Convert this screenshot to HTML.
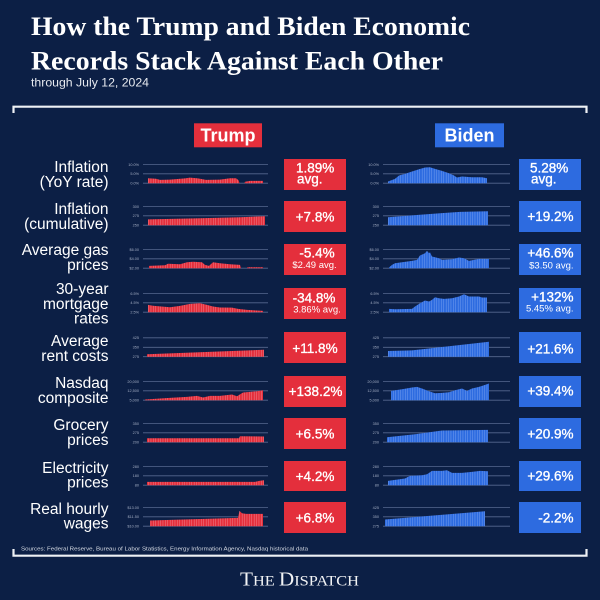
<!DOCTYPE html>
<html>
<head>
<meta charset="utf-8">
<style>
html,body{margin:0;padding:0;background:#0c1f45;}
svg{display:block;}
.lbl{font-family:"Liberation Sans",sans-serif;font-size:15.5px;fill:#ffffff;text-anchor:end;}
.val{font-family:"Liberation Sans",sans-serif;font-size:13.5px;fill:#ffffff;stroke:#ffffff;stroke-width:0.35px;}
.sub{font-family:"Liberation Sans",sans-serif;font-size:9.5px;fill:#ffffff;}
.tk{font-family:"Liberation Sans",sans-serif;font-size:3.8px;fill:#a3adc3;text-anchor:end;}
.grid line{stroke:#56688f;stroke-width:0.8;}
</style>
</head>
<body>
<svg width="600" height="600" viewBox="0 0 600 600" xmlns="http://www.w3.org/2000/svg">
<defs>
<pattern id="pr" x="0" y="0" width="2.4" height="10" patternUnits="userSpaceOnUse">
<rect x="0" y="0" width="2.4" height="10" fill="#e42f3c"/>
<rect x="1.95" y="0" width="0.45" height="10" fill="#f08a94"/>
</pattern>
<pattern id="pb" x="0" y="0" width="2.4" height="10" patternUnits="userSpaceOnUse">
<rect x="0" y="0" width="2.4" height="10" fill="#2d6be0"/>
<rect x="1.95" y="0" width="0.45" height="10" fill="#7aa3f0"/>
</pattern>
</defs>
<rect width="600" height="600" fill="#0c1f45"/>

<!-- Title -->
<text x="31" y="35" font-family="Liberation Serif, serif" font-weight="bold" font-size="26.5" fill="#ffffff" textLength="439" lengthAdjust="spacingAndGlyphs">How the Trump and Biden Economic</text>
<text x="31" y="69.3" font-family="Liberation Serif, serif" font-weight="bold" font-size="26.5" fill="#ffffff" textLength="412" lengthAdjust="spacingAndGlyphs">Records Stack Against Each Other</text>
<text x="31" y="86.5" font-family="Liberation Sans, sans-serif" font-size="12" fill="#e6e9ef" textLength="118" lengthAdjust="spacingAndGlyphs">through July 12, 2024</text>

<!-- Brackets -->
<path d="M13.5,113 V106.7 H586.5 V113" fill="none" stroke="#eef1f5" stroke-width="2.2"/>
<path d="M13.5,549 V555.7 H586.5 V549" fill="none" stroke="#eef1f5" stroke-width="2.2"/>

<!-- Column headers -->
<rect x="194" y="123.3" width="68" height="24" fill="#e42f3c"/>
<text x="228" y="141.6" font-family="Liberation Sans, sans-serif" font-weight="bold" font-size="18" fill="#ffffff" text-anchor="middle">Trump</text>
<rect x="435" y="123.3" width="69" height="24" fill="#2d6be0"/>
<text x="469.5" y="141.6" font-family="Liberation Sans, sans-serif" font-weight="bold" font-size="18" fill="#ffffff" text-anchor="middle">Biden</text>

<!-- Row labels -->
<text class="lbl" x="108.5" y="172">Inflation</text>
<text class="lbl" x="108.5" y="187">(YoY rate)</text>
<text class="lbl" x="108.5" y="214">Inflation</text>
<text class="lbl" x="108.5" y="229">(cumulative)</text>
<text class="lbl" x="108.5" y="255">Average gas</text>
<text class="lbl" x="108.5" y="270">prices</text>
<text class="lbl" x="108.5" y="294">30-year</text>
<text class="lbl" x="108.5" y="309">mortgage</text>
<text class="lbl" x="108.5" y="323.5">rates</text>
<text class="lbl" x="108.5" y="346">Average</text>
<text class="lbl" x="108.5" y="361">rent costs</text>
<text class="lbl" x="108.5" y="388">Nasdaq</text>
<text class="lbl" x="108.5" y="403">composite</text>
<text class="lbl" x="108.5" y="430">Grocery</text>
<text class="lbl" x="108.5" y="445">prices</text>
<text class="lbl" x="108.5" y="473">Electricity</text>
<text class="lbl" x="108.5" y="487.5">prices</text>
<text class="lbl" x="108.5" y="514">Real hourly</text>
<text class="lbl" x="108.5" y="528.5">wages</text>

<!-- Gridlines -->
<g class="grid">
<line x1="143" x2="268" y1="164.5" y2="164.5"/><line x1="143" x2="268" y1="173.8" y2="173.8"/><line x1="143" x2="268" y1="183.2" y2="183.2"/>
<line x1="383" x2="510" y1="164.5" y2="164.5"/><line x1="383" x2="510" y1="173.8" y2="173.8"/><line x1="383" x2="510" y1="183.2" y2="183.2"/>
<line x1="143" x2="268" y1="206.5" y2="206.5"/><line x1="143" x2="268" y1="215.8" y2="215.8"/><line x1="143" x2="268" y1="225.2" y2="225.2"/>
<line x1="383" x2="510" y1="206.5" y2="206.5"/><line x1="383" x2="510" y1="215.8" y2="215.8"/><line x1="383" x2="510" y1="225.2" y2="225.2"/>
<line x1="143" x2="268" y1="249.5" y2="249.5"/><line x1="143" x2="268" y1="258.8" y2="258.8"/><line x1="143" x2="268" y1="268.2" y2="268.2"/>
<line x1="383" x2="510" y1="249.5" y2="249.5"/><line x1="383" x2="510" y1="258.8" y2="258.8"/><line x1="383" x2="510" y1="268.2" y2="268.2"/>
<line x1="143" x2="268" y1="293.5" y2="293.5"/><line x1="143" x2="268" y1="302.8" y2="302.8"/><line x1="143" x2="268" y1="312.2" y2="312.2"/>
<line x1="383" x2="510" y1="293.5" y2="293.5"/><line x1="383" x2="510" y1="302.8" y2="302.8"/><line x1="383" x2="510" y1="312.2" y2="312.2"/>
<line x1="143" x2="268" y1="337.8" y2="337.8"/><line x1="143" x2="268" y1="347.3" y2="347.3"/><line x1="143" x2="268" y1="356.7" y2="356.7"/>
<line x1="383" x2="510" y1="337.8" y2="337.8"/><line x1="383" x2="510" y1="347.3" y2="347.3"/><line x1="383" x2="510" y1="356.7" y2="356.7"/>
<line x1="143" x2="268" y1="381.5" y2="381.5"/><line x1="143" x2="268" y1="390.8" y2="390.8"/><line x1="143" x2="268" y1="400.2" y2="400.2"/>
<line x1="383" x2="510" y1="381.5" y2="381.5"/><line x1="383" x2="510" y1="390.8" y2="390.8"/><line x1="383" x2="510" y1="400.2" y2="400.2"/>
<line x1="143" x2="268" y1="423.5" y2="423.5"/><line x1="143" x2="268" y1="432.8" y2="432.8"/><line x1="143" x2="268" y1="442.2" y2="442.2"/>
<line x1="383" x2="510" y1="423.5" y2="423.5"/><line x1="383" x2="510" y1="432.8" y2="432.8"/><line x1="383" x2="510" y1="442.2" y2="442.2"/>
<line x1="143" x2="268" y1="466.5" y2="466.5"/><line x1="143" x2="268" y1="475.8" y2="475.8"/><line x1="143" x2="268" y1="485.2" y2="485.2"/>
<line x1="383" x2="510" y1="466.5" y2="466.5"/><line x1="383" x2="510" y1="475.8" y2="475.8"/><line x1="383" x2="510" y1="485.2" y2="485.2"/>
<line x1="143" x2="268" y1="507.5" y2="507.5"/><line x1="143" x2="268" y1="516.8" y2="516.8"/><line x1="143" x2="268" y1="526.2" y2="526.2"/>
<line x1="383" x2="510" y1="507.5" y2="507.5"/><line x1="383" x2="510" y1="516.8" y2="516.8"/><line x1="383" x2="510" y1="526.2" y2="526.2"/>
</g>

<!-- Tick labels Trump -->
<text class="tk" x="139" y="165.8">10.0%</text><text class="tk" x="139" y="175.1">5.0%</text><text class="tk" x="139" y="184.5">0.0%</text>
<text class="tk" x="139" y="207.8">300</text><text class="tk" x="139" y="217.1">275</text><text class="tk" x="139" y="226.5">250</text>
<text class="tk" x="139" y="250.8">$6.00</text><text class="tk" x="139" y="260.1">$4.00</text><text class="tk" x="139" y="269.5">$2.00</text>
<text class="tk" x="139" y="294.8">6.5%</text><text class="tk" x="139" y="304.1">4.5%</text><text class="tk" x="139" y="313.5">2.5%</text>
<text class="tk" x="139" y="339.1">425</text><text class="tk" x="139" y="348.6">350</text><text class="tk" x="139" y="358">275</text>
<text class="tk" x="139" y="382.8">20,000</text><text class="tk" x="139" y="392.1">12,500</text><text class="tk" x="139" y="401.5">5,000</text>
<text class="tk" x="139" y="424.8">350</text><text class="tk" x="139" y="434.1">275</text><text class="tk" x="139" y="443.5">200</text>
<text class="tk" x="139" y="467.8">280</text><text class="tk" x="139" y="477.1">180</text><text class="tk" x="139" y="486.5">80</text>
<text class="tk" x="139" y="508.8">$13.00</text><text class="tk" x="139" y="518.1">$11.50</text><text class="tk" x="139" y="527.5">$10.00</text>

<!-- Tick labels Biden -->
<text class="tk" x="379" y="165.8">10.0%</text><text class="tk" x="379" y="175.1">5.0%</text><text class="tk" x="379" y="184.5">0.0%</text>
<text class="tk" x="379" y="207.8">300</text><text class="tk" x="379" y="217.1">275</text><text class="tk" x="379" y="226.5">250</text>
<text class="tk" x="379" y="250.8">$6.00</text><text class="tk" x="379" y="260.1">$4.00</text><text class="tk" x="379" y="269.5">$2.00</text>
<text class="tk" x="379" y="294.8">6.5%</text><text class="tk" x="379" y="304.1">4.5%</text><text class="tk" x="379" y="313.5">2.5%</text>
<text class="tk" x="379" y="339.1">425</text><text class="tk" x="379" y="348.6">350</text><text class="tk" x="379" y="358">275</text>
<text class="tk" x="379" y="382.8">20,000</text><text class="tk" x="379" y="392.1">12,500</text><text class="tk" x="379" y="401.5">5,000</text>
<text class="tk" x="379" y="424.8">350</text><text class="tk" x="379" y="434.1">275</text><text class="tk" x="379" y="443.5">200</text>
<text class="tk" x="379" y="467.8">280</text><text class="tk" x="379" y="477.1">180</text><text class="tk" x="379" y="486.5">80</text>
<text class="tk" x="379" y="508.8">425</text><text class="tk" x="379" y="518.1">350</text><text class="tk" x="379" y="527.5">275</text>

<!-- Trump bars -->
<g fill="url(#pr)">
<polygon points="148,183.2 148,178.2 156,178.7 160,179.9 170,179.6 185,178.4 190,177.6 198,178.4 206,179.9 220,179.6 230,178.2 236,178.2 238.5,180.2 239.5,183.2 244.5,183.2 245,181.7 250,180.9 263,180.9 263,183.2"/>
<polygon points="148,225.2 148,219.4 200,218.2 240,217.2 265,216.2 265,225.2"/>
<polygon points="149,268.2 149,265.9 165,265.2 168,263.7 180,264.2 187,262.2 193,261.7 202,262.2 205,264.9 209,265.9 213,262.2 220,263.2 230,264.2 240,264.9 241,268.2 247,268.2 247.5,267.2 263,267.2 263,268.2"/>
<polygon points="148,312.2 148,304.9 153,305.7 170,307.2 180,305.9 190,303.9 200,303.2 207,304.9 213,306.5 220,307.5 232,307.6 238,308.9 247,309.9 257,310.5 263,310.9 263,312.2"/>
<polygon points="147,356.7 147,354.2 264,349.8 264,356.7"/>
<polygon points="145,400.2 145,399.5 170,397.9 187,396.9 197,395.9 203,397.5 210,395.9 220,395.9 232,394.5 237,396.2 243,392.5 250,391.9 257,391.2 263,390.2 263,400.2"/>
<polygon points="147,442.2 147,438.2 239,438.2 240,436.2 264,436.5 264,442.2"/>
<polygon points="147,485.2 147,481.9 255,481.9 260,480.7 264,480.2 264,485.2"/>
<polygon points="150,526.2 150,520.5 238,517.9 239.5,510.9 242,513.2 246,513.9 263,513.9 263,526.2"/>
</g>

<!-- Biden bars -->
<g fill="url(#pb)">
<polygon points="388,183.2 388,181.5 395,178.9 399,175.5 405,173.9 412,171.5 419,169.2 425,167.5 430,167.2 435,168.9 442,170.9 449,173.2 454,175.5 457,177.5 462,176.5 472,177.2 482,177.2 487,178.2 487,183.2"/>
<polygon points="388,225.2 388,217.2 420,214.7 440,213.2 460,211.9 488,211.2 488,225.2"/>
<polygon points="389,268.2 389,267.5 392,264.9 395,263.2 402,262.2 412,260.9 417,259.9 420,255.5 425,253.2 427,250.9 429,253.2 430,252.2 432,256.5 439,258.2 442,259.9 452,259.2 459,257.5 464,258.2 469,260.9 474,259.9 479,258.9 489,258.9 489,268.2"/>
<polygon points="389,312.2 389,308.9 395,309.2 412,308.9 415,306.5 420,303.2 425,300.5 429,301.5 432,299.9 435,297.2 439,298.2 444,298.9 452,298.2 459,296.5 464,294.2 469,296.5 479,296.5 482,297.5 487,297.5 487,312.2"/>
<polygon points="388,356.7 388,351 412,350.4 489,341.7 489,356.7"/>
<polygon points="391,400.2 391,390.9 402,389.2 412,387.5 417,386.9 422,388.5 429,391.2 435,393.2 442,392.9 449,392.2 455,390.2 462,388.5 467,390.9 472,388.5 479,386.9 484,385.2 489,383.5 489,400.2"/>
<polygon points="387,442.2 387,437.2 415,434.2 442,430.5 488,429.9 488,442.2"/>
<polygon points="388,485.2 388,480.9 405,478.5 410,475.9 422,475.2 427,474.2 432,470.9 442,470.9 447,470.2 452,472.9 462,472.9 472,471.9 480,470.9 488,471.2 488,485.2"/>
<polygon points="385,526.2 385,519.5 485,511.2 485,526.2"/>
</g>

<!-- Trump value boxes -->
<g fill="#e42f3c">
<rect x="284" y="159" width="62" height="31"/>
<rect x="284" y="201" width="62" height="31"/>
<rect x="284" y="244" width="62" height="31"/>
<rect x="284" y="288" width="62" height="31"/>
<rect x="284" y="332" width="62" height="31"/>
<rect x="284" y="376" width="62" height="31"/>
<rect x="284" y="418" width="62" height="31"/>
<rect x="284" y="461" width="62" height="30"/>
<rect x="284" y="502" width="62" height="31"/>
</g>
<!-- Biden value boxes -->
<g fill="#2d6be0">
<rect x="519" y="159" width="62" height="31"/>
<rect x="519" y="201" width="62" height="31"/>
<rect x="519" y="244" width="62" height="31"/>
<rect x="519" y="288" width="62" height="31"/>
<rect x="519" y="332" width="62" height="31"/>
<rect x="519" y="376" width="62" height="31"/>
<rect x="519" y="418" width="62" height="31"/>
<rect x="519" y="461" width="62" height="30"/>
<rect x="519" y="502" width="62" height="31"/>
</g>

<!-- Trump values -->
<text class="val" x="296" y="172.3">1.89%</text>
<text class="val" x="297" y="183.5">avg.</text>
<text class="val" x="315" y="221.5" text-anchor="middle">+7.8%</text>
<text class="val" x="317" y="257.3" text-anchor="middle">-5.4%</text>
<text class="sub" x="314.5" y="267.8" text-anchor="middle">$2.49 avg.</text>
<text class="val" x="314" y="302.5" text-anchor="middle">-34.8%</text>
<text class="sub" x="317" y="312.3" text-anchor="middle">3.86% avg.</text>
<text class="val" x="315" y="352.8" text-anchor="middle">+11.8%</text>
<text class="val" x="315.5" y="396" text-anchor="middle">+138.2%</text>
<text class="val" x="315" y="438.5" text-anchor="middle">+6.5%</text>
<text class="val" x="315" y="481" text-anchor="middle">+4.2%</text>
<text class="val" x="315" y="522.5" text-anchor="middle">+6.8%</text>

<!-- Biden values -->
<text class="val" x="530" y="172.7">5.28%</text>
<text class="val" x="531" y="183.5">avg.</text>
<text class="val" x="573.5" y="221" text-anchor="end">+19.2%</text>
<text class="val" x="573.5" y="257.7" text-anchor="end">+46.6%</text>
<text class="sub" x="573.5" y="268.3" text-anchor="end">$3.50 avg.</text>
<text class="val" x="573.5" y="301.7" text-anchor="end">+132%</text>
<text class="sub" x="573.5" y="311.7" text-anchor="end">5.45% avg.</text>
<text class="val" x="573.5" y="353.3" text-anchor="end">+21.6%</text>
<text class="val" x="573.5" y="395.3" text-anchor="end">+39.4%</text>
<text class="val" x="573.5" y="438.5" text-anchor="end">+20.9%</text>
<text class="val" x="573.5" y="480.7" text-anchor="end">+29.6%</text>
<text class="val" x="573.5" y="522.7" text-anchor="end">-2.2%</text>

<!-- Footer -->
<text x="21" y="550.5" font-family="Liberation Sans, sans-serif" font-size="5.6" fill="#d6dbe4" textLength="287" lengthAdjust="spacingAndGlyphs">Sources: Federal Reserve, Bureau of Labor Statistics, Energy Information Agency, Nasdaq historical data</text>
<text x="240" y="585.7" font-family="Liberation Serif, serif" fill="#f2f3f5" textLength="119" lengthAdjust="spacingAndGlyphs"><tspan font-size="19.5">T</tspan><tspan font-size="15">HE </tspan><tspan font-size="19.5">D</tspan><tspan font-size="15">ISPATCH</tspan></text>
</svg>
</body>
</html>
